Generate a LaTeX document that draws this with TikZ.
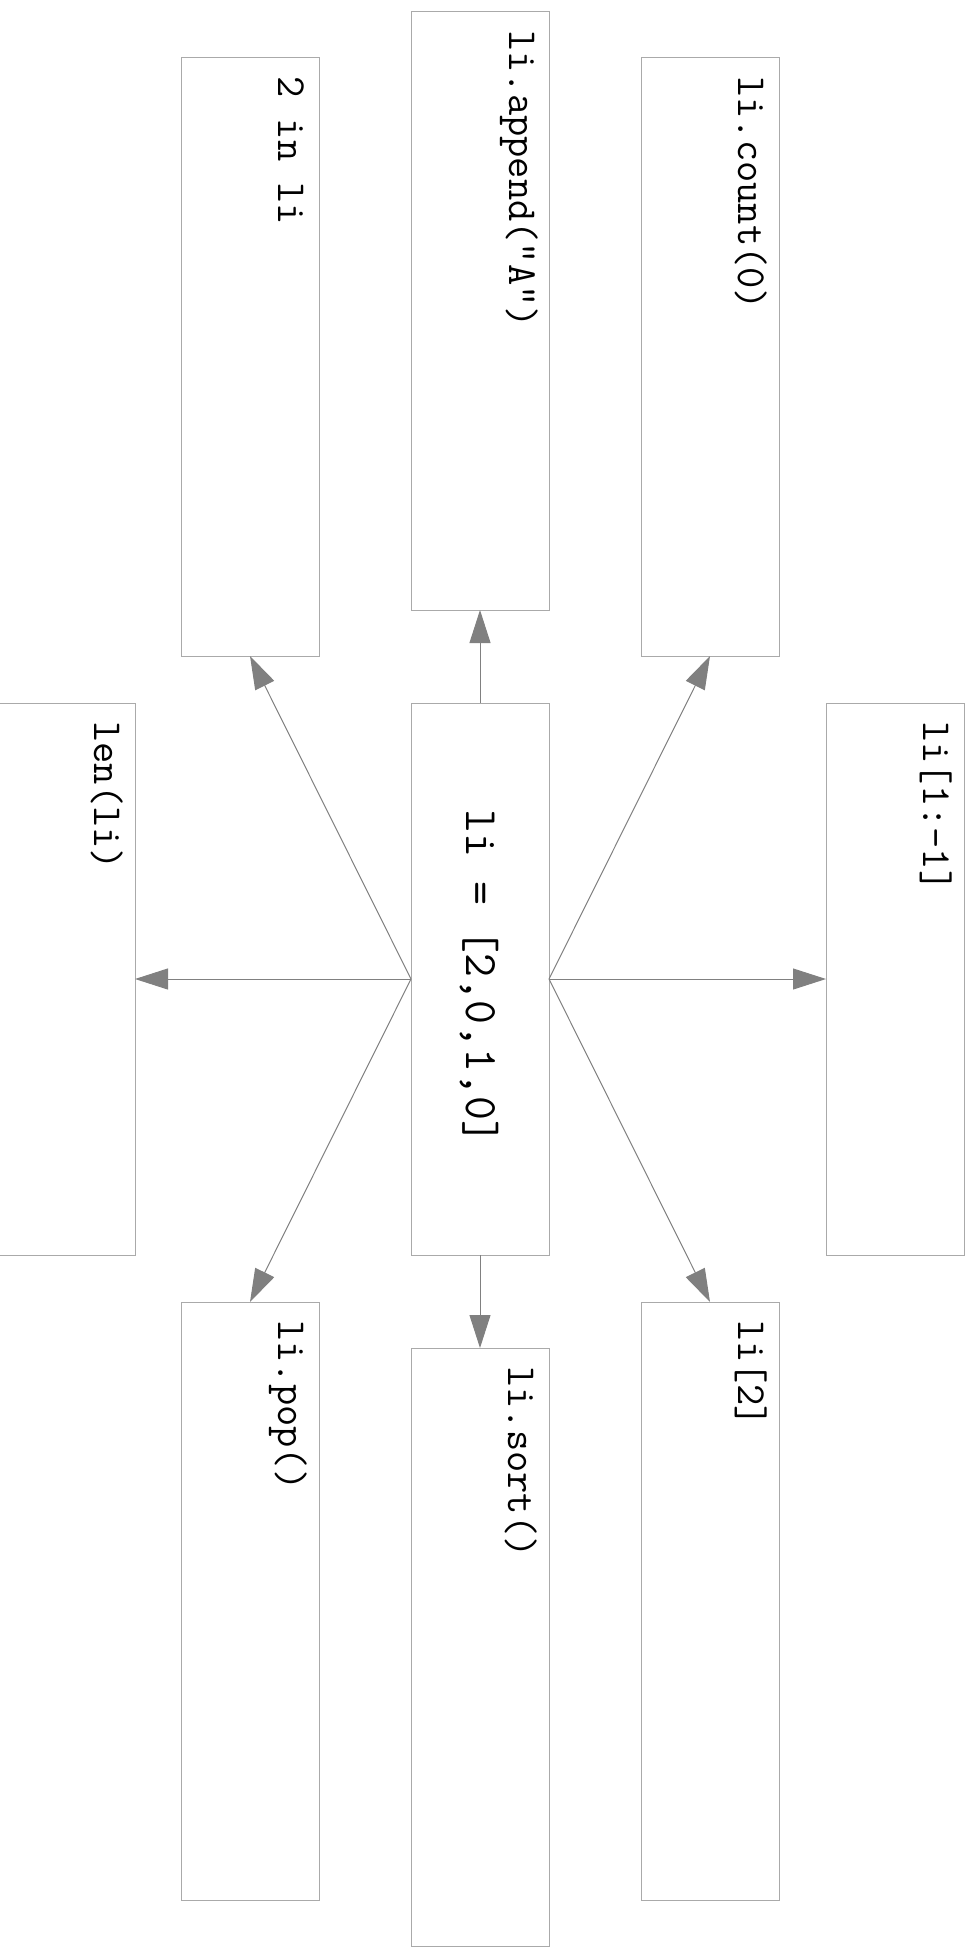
\documentclass[tikz,border=0pt]{standalone}
\usepackage{fontspec}
\usetikzlibrary{arrows.meta}
\definecolor{boxgray}{RGB}{170,170,170}
\definecolor{arrgray}{RGB}{128,128,128}
\begin{document}
\begin{tikzpicture}[x=1pt,y=-1pt,
  box/.style={draw=boxgray, line width=1pt, minimum width=138pt, minimum height=598pt, inner sep=0pt, outer sep=0pt, fill=white},
  cbox/.style={box, minimum height=552pt},
  lbl/.style={font=\ttfamily\fontsize{41.3}{41.3}\selectfont, rotate=-90, inner sep=0pt, anchor=base west},
  clbl/.style={font=\ttfamily\fontsize{46.5}{46.5}\selectfont, rotate=-90, inner sep=0pt, anchor=base},
  arr/.style={draw=arrgray, line width=1pt, -{Triangle[length=33pt,width=21pt]}}
]
\useasboundingbox (0,0) rectangle (973,1948);
\node[cbox] (C) at (480,979) {};
\node[box] (TM) at (480,311) {};
\node[box] (TL) at (250,357) {};
\node[box] (TR) at (710,357) {};
\node[cbox] (L) at (66,979) {};
\node[cbox] (R) at (895,979) {};
\node[box] (BL) at (250,1601) {};
\node[box] (BM) at (480,1647) {};
\node[box] (BR) at (710,1601) {};

\node[clbl] (tC) at (466,977) {li = [2,0,1,0]};
\node[lbl] (tTM) at (509,30) {li.append("A")};
\node[lbl] (tTL) at (278,76) {2 in li};
\node[lbl] (tTR) at (738,76) {li.count(0)};
\node[lbl] (tL) at (94,721) {len(li)};
\node[lbl] (tR) at (923,721) {li[1:-1]};
\node[lbl] (tBL) at (278,1320) {li.pop()};
\node[lbl] (tBM) at (508,1366) {li.sort()};
\node[lbl] (tBR) at (738,1320) {li[2]};

\draw[arr] (C.north) -- (TM.south);
\draw[arr] (C.west) -- (TL.south);
\draw[arr] (C.west) -- (L.east);
\draw[arr] (C.west) -- (BL.north);
\draw[arr] (C.south) -- (BM.north);
\draw[arr] (C.east) -- (TR.south);
\draw[arr] (C.east) -- (R.west);
\draw[arr] (C.east) -- (BR.north);
\end{tikzpicture}
\end{document}
